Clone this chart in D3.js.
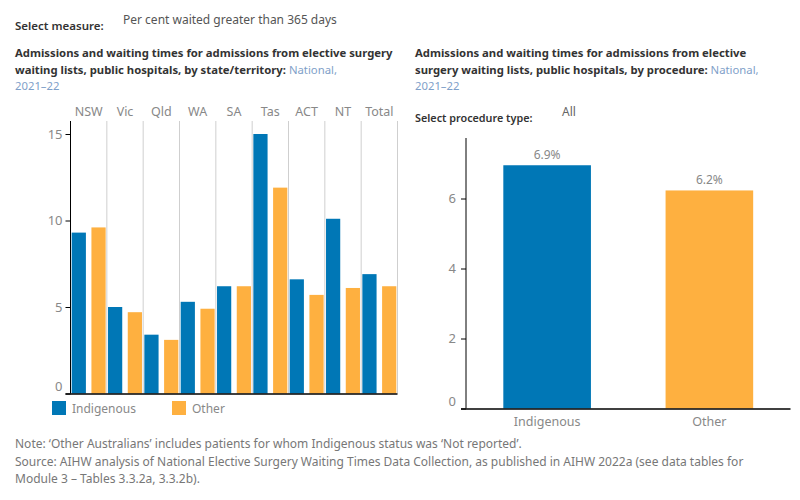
<!DOCTYPE html>
<html>
<head>
<meta charset="utf-8">
<script src="https://cdn.jsdelivr.net/npm/d3@7"></script>
<style>
  body { margin: 0; background: #fff; }
  svg text { font-family: "Noto Sans", "Open Sans", sans-serif; }
</style>
</head>
<body>
<script>
// state/territory chart
const states = ['NSW', 'Vic', 'Qld', 'WA', 'SA', 'Tas', 'ACT', 'NT', 'Total'];
const indigenous = [9.3, 5.0, 3.4, 5.3, 6.2, 15.0, 6.6, 10.1, 6.9];
const other = [9.6, 4.7, 3.1, 4.9, 6.2, 11.9, 5.7, 6.1, 6.2];
const leftTicks = [0, 5, 10, 15];
// procedure chart
const groups = ['Indigenous', 'Other'];
const procValues = [6.95, 6.23];
const procLabels = ['6.9%', '6.2%'];
const rightTicks = [0, 2, 4, 6];

const blue = '#0077b6', orange = '#feb040';
const width = 800, height = 500;

const svg = d3.create('svg')
    .attr('width', width)
    .attr('height', height)
    .attr('viewBox', [0, 0, width, height]);

// header text
svg.append('text').attr('x', 15).attr('y', 30)
    .attr('font-size', 11.5).attr('font-weight', 600).attr('fill', '#333')
    .text('Select measure:');
svg.append('text').attr('x', 123).attr('y', 24)
    .attr('font-size', 12).attr('fill', '#555')
    .text('Per cent waited greater than 365 days');

function title(x, lines) {
  const t = svg.append('text').attr('font-size', 11.3).attr('font-weight', 700).attr('fill', '#333');
  lines.forEach(([bold, light], i) => {
    const line = t.append('tspan').attr('x', x).attr('y', 57 + i * 16.5);
    if (bold) line.append('tspan').text(bold);
    if (light) line.append('tspan').attr('font-weight', 400).attr('fill', '#7f9fc9').text(light);
  });
}
title(15, [
  ['Admissions and waiting times for admissions from elective surgery'],
  ['waiting lists, public hospitals, by state/territory: ', 'National,'],
  ['', '2021–22']
]);
title(415, [
  ['Admissions and waiting times for admissions from elective'],
  ['surgery waiting lists, public hospitals, by procedure: ', 'National,'],
  ['', '2021–22']
]);

// ---- left chart ----
const L = { left: 70.5, right: 397.5, top: 121, bottom: 393.5 };
const x0 = d3.scaleBand().domain(states).range([L.left, L.right]);
const x1 = d3.scaleBand().domain(['Indigenous', 'Other']).range([0, x0.bandwidth()]).paddingInner(0.28).paddingOuter(0.06);
const yL = d3.scaleLinear().domain([0, 15]).range([L.bottom, 134]);

const gL = svg.append('g');
// column separators
gL.append('g').selectAll('line')
  .data(states)
  .join('line')
    .attr('x1', d => x0(d) + x0.bandwidth()).attr('x2', d => x0(d) + x0.bandwidth())
    .attr('y1', L.top).attr('y2', L.bottom)
    .attr('stroke', '#cfcfcf').attr('stroke-width', 1);

const col = gL.append('g').selectAll('g')
  .data(states.map((s, i) => ({ s, vals: [['Indigenous', indigenous[i]], ['Other', other[i]]] })))
  .join('g')
    .attr('transform', d => `translate(${x0(d.s)},0)`);
col.selectAll('rect')
  .data(d => d.vals)
  .join('rect')
    .attr('x', d => x1(d[0]))
    .attr('width', x1.bandwidth())
    .attr('y', d => yL(d[1]))
    .attr('height', d => yL(0) - yL(d[1]))
    .attr('fill', d => d[0] === 'Indigenous' ? blue : orange);

// state labels at top
gL.append('g')
    .attr('transform', `translate(0,${L.top - 5})`)
    .call(d3.axisTop(x0).tickSize(0).tickPadding(0))
    .call(g => g.select('.domain').remove())
    .call(g => g.selectAll('text').attr('font-size', 12.5).attr('fill', '#888').attr('font-family', null));

// y axis
gL.append('g')
    .attr('transform', `translate(${L.left},0)`)
    .call(d3.axisLeft(yL).tickValues(leftTicks).tickSize(5).tickSizeOuter(0).tickPadding(3))
    .call(g => g.select('.domain').attr('d', `M0,${L.top}V${L.bottom}`).attr('stroke', '#000'))
    .call(g => g.selectAll('text').attr('font-size', 13).attr('fill', '#888').attr('font-family', null))
    .call(g => g.selectAll('.tick').filter(d => d === 0).select('text').attr('dy', '-0.2em'));
// baseline
gL.append('line')
    .attr('x1', L.left - 5).attr('x2', L.right).attr('y1', L.bottom + 0.5).attr('y2', L.bottom + 0.5)
    .attr('stroke', '#000').attr('stroke-width', 1.3);

// legend
const leg = svg.append('g').attr('transform', 'translate(52,401)');
[['Indigenous', blue, 0], ['Other', orange, 120]].forEach(([name, c, dx]) => {
  leg.append('rect').attr('x', dx).attr('y', 0).attr('width', 14).attr('height', 14).attr('fill', c);
  leg.append('text').attr('x', dx + 20).attr('y', 11.5).attr('font-size', 12).attr('fill', '#888').text(name);
});

// ---- right chart ----
svg.append('text').attr('x', 415).attr('y', 122)
    .attr('font-size', 10.8).attr('font-weight', 600).attr('fill', '#333')
    .text('Select procedure type:');
svg.append('text').attr('x', 562).attr('y', 116)
    .attr('font-size', 12).attr('fill', '#666').text('All');

const R = { left: 466, right: 790.5, top: 138, bottom: 408.5 };
const xR = d3.scaleBand().domain(groups).range([R.left, R.right]).paddingInner(0.46).paddingOuter(0.23);
const yR = d3.scaleLinear().domain([0, 7.7]).range([R.bottom, R.bottom - 7.7 * 35]);

const gR = svg.append('g');
gR.append('g').selectAll('rect')
  .data(groups.map((g, i) => ({ g, v: procValues[i], label: procLabels[i] })))
  .join('rect')
    .attr('x', d => xR(d.g))
    .attr('width', xR.bandwidth())
    .attr('y', d => yR(d.v))
    .attr('height', d => yR(0) - yR(d.v))
    .attr('fill', (d, i) => i === 0 ? blue : orange);

gR.append('g').selectAll('text')
  .data(groups.map((g, i) => ({ g, v: procValues[i], label: procLabels[i] })))
  .join('text')
    .attr('x', d => xR(d.g) + xR.bandwidth() / 2)
    .attr('y', d => yR(d.v) - 6)
    .attr('text-anchor', 'middle')
    .attr('font-size', 12).attr('fill', '#888')
    .text(d => d.label);

gR.append('g')
    .attr('transform', `translate(${R.left},0)`)
    .call(d3.axisLeft(yR).tickValues(rightTicks).tickSize(5).tickSizeOuter(0).tickPadding(5))
    .call(g => g.select('.domain').attr('d', `M0,${R.top}V${R.bottom}`).attr('stroke', '#000'))
    .call(g => g.selectAll('text').attr('font-size', 13).attr('fill', '#888').attr('font-family', null))
    .call(g => g.selectAll('.tick').filter(d => d === 0).select('text').attr('dy', '-0.2em'));

gR.append('g')
    .attr('transform', `translate(0,${R.bottom + 0.5})`)
    .call(d3.axisBottom(xR).tickSize(0).tickPadding(8))
    .call(g => g.select('.domain').attr('d', `M${R.left - 5},0H${R.right}`).attr('stroke', '#000').attr('stroke-width', 1.3))
    .call(g => g.selectAll('text').attr('font-size', 12.5).attr('fill', '#888').attr('font-family', null));

// footnote
const notes = [
  "Note: \u2018Other Australians\u2019 includes patients for whom Indigenous status was \u2018Not reported\u2019.",
  'Source: AIHW analysis of National Elective Surgery Waiting Times Data Collection, as published in AIHW 2022a (see data tables for',
  'Module 3 \u2013 Tables 3.3.2a, 3.3.2b).'
];
svg.append('g').selectAll('text')
  .data(notes)
  .join('text')
    .attr('x', 15)
    .attr('y', (d, i) => 448 + i * 17.5)
    .attr('font-size', 12)
    .attr('font-family', '"Liberation Sans Narrow", "DejaVu Sans Condensed", sans-serif')
    .attr('fill', '#777')
    .text(d => d);

document.body.append(svg.node());
</script>
</body>
</html>
